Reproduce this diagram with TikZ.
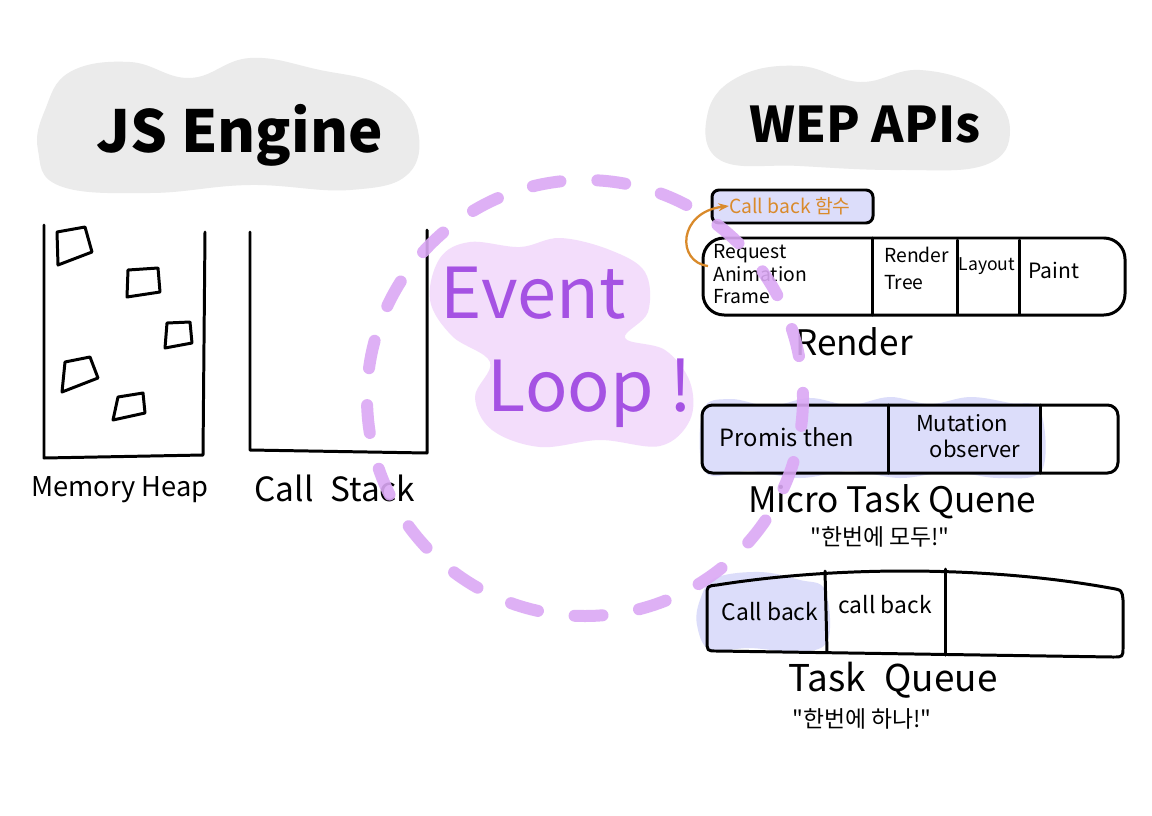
\documentclass[tikz,border=0pt]{standalone}
\usepackage{fontspec}
\setmainfont{Noto Sans CJK KR}
\newfontfamily\krplain[Ligatures=ResetAll]{Noto Sans CJK KR}
\usetikzlibrary{arrows.meta}
\definecolor{grayblob}{HTML}{EBEBEB}
\definecolor{evblob}{HTML}{F3DDFB}
\definecolor{evtext}{HTML}{A552E3}
\definecolor{evdash}{HTML}{DBA8F5}
\definecolor{lav}{HTML}{DCDDFA}
\definecolor{cborange}{HTML}{D98A2B}
\begin{document}
\begin{tikzpicture}[x=0.02cm,y=-0.02cm,
  pen/.style={line width=1.7pt, line cap=round, line join=round},
  title/.style={inner sep=0pt, font=\fontsize{33}{38}\selectfont\bfseries},
  lbl/.style={inner sep=0pt, font=\fontsize{19}{22}\selectfont},
  quote/.style={inner sep=0pt, font=\krplain\fontsize{13}{15}\selectfont},
  cell/.style={inner sep=0pt, font=\fontsize{11}{12.8}\selectfont, align=left},
  evloop/.style={draw=evdash, line width=0.24cm, line cap=round, dash pattern=on 0.56cm off 0.74cm, opacity=0.9},
  evword/.style={inner sep=0pt, text=evtext, font=\fontsize{40}{44}\selectfont}]
\useasboundingbox (0,0) rectangle (1152,815);
\fill[white] (0,0) rectangle (1152,815);

% gray title blobs
\fill[grayblob] plot[smooth cycle, tension=0.7] coordinates {(45,110) (70,72) (130,62) (190,78) (250,58) (320,70) (380,85) (415,120) (410,172) (350,190) (250,185) (150,193) (60,186) (38,150)};
\fill[grayblob] plot[smooth cycle, tension=0.7] coordinates {(708,112) (740,76) (800,66) (860,82) (920,70) (985,90) (1010,130) (985,165) (900,170) (800,166) (720,160)};

% event loop blob
\fill[evblob] plot[smooth cycle, tension=0.6] coordinates {(440,258) (470,242) (520,247) (560,238) (610,250) (645,272) (648,312) (625,338) (665,350) (690,382) (690,420) (660,446) (600,440) (540,447) (492,430) (475,397) (490,362) (452,336) (430,300)};

% lavender fills
\fill[lav] plot[smooth cycle, tension=0.6] coordinates {(703,410) (730,399) (770,406) (810,398) (850,405) (890,397) (930,404) (970,397) (1010,403) (1040,410) (1042,470) (1000,478) (950,472) (900,478) (850,471) (800,478) (750,471) (705,472)};
\fill[lav] plot[smooth cycle, tension=0.6] coordinates {(700,600) (715,578) (760,572) (800,580) (825,590) (828,640) (800,652) (750,648) (710,650) (697,625)};

% titles
\node[title] (jse) at (240,135) {JS Engine};
\node[title, font=\fontsize{28}{32}\selectfont\bfseries] (wep) at (865,125) {WEP APIs};

% memory heap
\draw[pen] (44,225) -- (44,458) -- (203,455) -- (205,232);
\draw[pen] (57,232) -- (85,227) -- (92,252) -- (58,265) -- cycle;
\draw[pen] (128,270) -- (158,268) -- (160,292) -- (127,297) -- cycle;
\draw[pen] (167,323) -- (190,322) -- (192,343) -- (165,348) -- cycle;
\draw[pen] (65,362) -- (90,357) -- (98,378) -- (62,392) -- cycle;
\draw[pen] (118,397) -- (143,393) -- (145,413) -- (113,420) -- cycle;
\node[lbl, font=\fontsize{15.5}{18}\selectfont] (mh) at (120,490) {Memory Heap};

% call stack
\draw[pen] (250,232) -- (250,450) -- (427,453) -- (427,230);
\node[lbl] (cs) at (335,488) {Call\enspace Stack};

% callback box
\draw[pen, fill=lav, rounded corners=4] (712,190) rectangle (873,223);
\node[inner sep=0pt, text=cborange, font=\fontsize{11}{13}\selectfont] (cb) at (790,206) {Call back 함수};

% render box
\draw[pen, rounded corners=12] (703,238) rectangle (1125,315);
\draw[pen] (872,238) -- (872,315);
\draw[pen] (957,240) -- (957,314);
\draw[pen] (1019,240) -- (1019,314);
\node[cell, anchor=north west] (rqa) at (713,244) {Request\\Animation\\Frame};
\node[cell, anchor=north west, font=\fontsize{11}{15.5}\selectfont] (rt) at (884,247) {Render\\Tree};
\node[cell, font=\fontsize{10}{12}\selectfont] (lay) at (987,266) {Layout};
\node[cell, font=\fontsize{12}{14}\selectfont] (pnt) at (1054,270) {Paint};
\node[lbl, font=\fontsize{20}{24}\selectfont] (rnd) at (854,342) {Render};

% micro task queue
\draw[pen, rounded corners=6] (702,405) rectangle (1118,473);
\draw[pen] (888,405) -- (888,473);
\draw[pen] (1040,405) -- (1040,473);
\node[cell, font=\fontsize{13.5}{16}\selectfont] (pt) at (787,437) {Promis then};
\node[cell, align=center, font=\fontsize{12.5}{15}\selectfont] (mo) at (962,436) {Mutation\\\hspace*{1.2em}observer};
\node[lbl, font=\fontsize{20}{24}\selectfont] (mtq) at (892,502) {Micro Task Quene};
\node[quote] (mq) at (880,537) {"한번에 모두!"};

% task queue
\draw[pen] (707,640) -- (707,596) .. controls (707,586) .. (717,585) .. controls (850,564) and (1000,568) .. (1110,588) .. controls (1122,590) .. (1123,600) -- (1123,647) .. controls (1123,657) .. (1113,657) -- (717,651) .. controls (707,651) .. (707,640) -- cycle;
\draw[pen] (825,571) -- (827,652);
\draw[pen] (945,569) -- (945,655);
\node[cell, font=\fontsize{13}{15}\selectfont] (cb1) at (770,612) {Call back};
\node[cell, font=\fontsize{13}{15}\selectfont] (cb2) at (885,605) {call back};
\node[lbl, font=\fontsize{21}{24}\selectfont] (tq) at (893,680) {Task\enspace Queue};
\node[quote] (tqq) at (862,719) {"한번에 하나!"};

% event loop dashed circle
\draw[evloop] (585,398) circle[radius=218];

% event loop text
\node[evword] (ev) at (533,293) {Event};
\node[evword] (lp) at (590,393) {Loop !};

% orange arrow
\coordinate (arrs) at (708,266);
\draw[cborange, line width=1.3pt, -{Stealth[length=6pt]}] (arrs) .. controls (676,262) and (678,212) .. (cb.west);
\end{tikzpicture}
\end{document}
